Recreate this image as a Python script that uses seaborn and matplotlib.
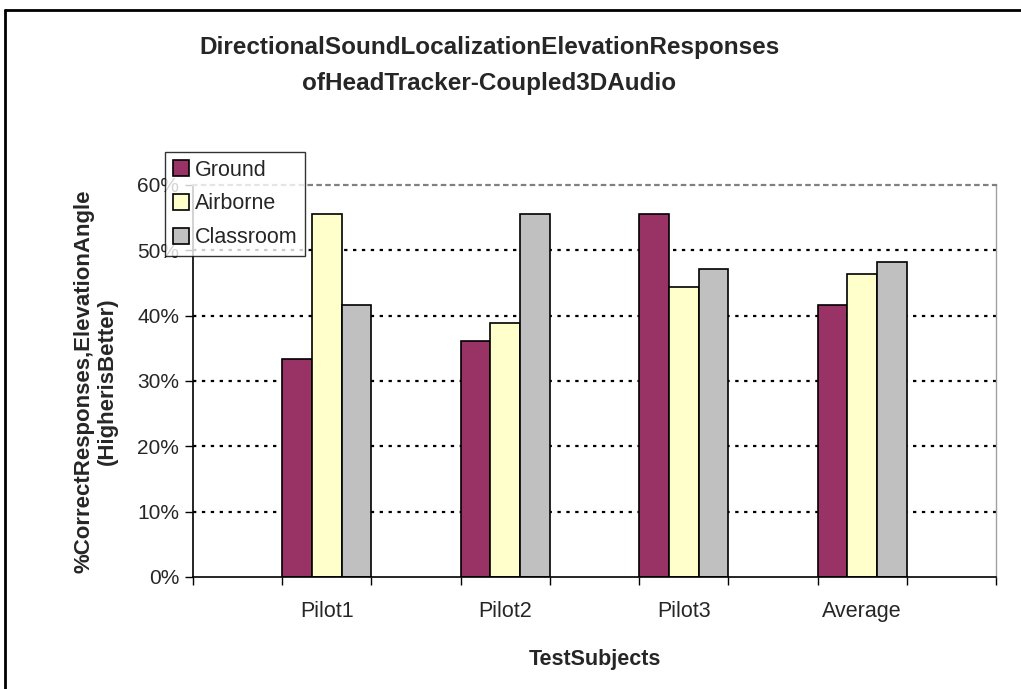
import matplotlib
matplotlib.use("Agg")
import matplotlib.pyplot as plt
import seaborn as sns
import pandas as pd
from matplotlib.ticker import FixedLocator, PercentFormatter
from matplotlib.lines import Line2D

subjects = ["Pilot1", "Pilot2", "Pilot3", "Average"]
ground = [33.3, 36.1, 55.6, 41.7]
airborne = [55.6, 38.9, 44.4, 46.3]
classroom = [41.7, 55.6, 47.2, 48.2]
series_names = ["Ground", "Airborne", "Classroom"]
colors = ["#993366", "#FFFFCC", "#C0C0C0"]

rows = []
for name, vals in zip(series_names, [ground, airborne, classroom]):
    for s, v in zip(subjects, vals):
        rows.append({"Subject": s, "Series": name, "Value": v / 100.0})
df = pd.DataFrame(rows)

sns.set_style("white")
plt.rcParams["font.family"] = ["Liberation Sans", "DejaVu Sans"]

fig = plt.figure(figsize=(10.21, 6.89), dpi=100)
ax = fig.add_axes([0.189, 0.1626, 0.9755 - 0.189, 0.7315 - 0.1626])

sns.barplot(data=df, x="Subject", y="Value", hue="Series", order=subjects,
            hue_order=series_names, palette=colors, width=0.5, gap=0,
            edgecolor="black", linewidth=1.2, saturation=1, errorbar=None, ax=ax)

ax.set_xlim(-0.75, 3.75)
ax.set_ylim(0, 0.6)
ax.yaxis.set_major_locator(FixedLocator([0, 0.1, 0.2, 0.3, 0.4, 0.5, 0.6]))
ax.yaxis.set_major_formatter(PercentFormatter(1.0, decimals=0))
ax.grid(False)
for yv in [0.1, 0.2, 0.3, 0.4, 0.5]:
    ax.axhline(yv, color="black", linestyle=(0, (1.5, 2.5)), linewidth=1.6, zorder=0)

ax.set_xticks(range(len(subjects)))
ax.set_xticklabels(subjects)
ax.xaxis.set_minor_locator(FixedLocator([-0.75 + 0.5 * k for k in range(10)]))
ax.tick_params(axis="x", which="major", length=0, pad=17, labelsize=15.5)
ax.tick_params(axis="x", which="minor", length=6, width=1, color="black", direction="out", bottom=True)
ax.tick_params(axis="y", which="major", length=6, width=1, color="black", direction="out",
               left=True, labelsize=15, pad=4)

for side in ["left", "bottom"]:
    ax.spines[side].set_color("black")
    ax.spines[side].set_linewidth(1.2)
ax.spines["right"].set_color("#A0A0A0")
ax.spines["right"].set_linewidth(1.0)
ax.spines["top"].set_color("#808080")
ax.spines["top"].set_linestyle((0, (1.5, 2.5)))
ax.spines["top"].set_linewidth(1.6)

ax.set_xlabel("TestSubjects", fontsize=15.5, fontweight="bold", labelpad=20)
ax.set_ylabel("%CorrectResponses,ElevationAngle\n(HigherisBetter)", fontsize=16,
              fontweight="bold", labelpad=14, linespacing=1.15)

fig.text(0.479, 0.905, "DirectionalSoundLocalizationElevationResponses\nofHeadTracker-Coupled3DAudio",
         ha="center", va="center", fontsize=17.5, fontweight="bold", linespacing=1.75)

leg = ax.legend(loc="upper left", bbox_to_anchor=(165 / 1021, 1 - 152 / 689),
                bbox_transform=fig.transFigure, fontsize=15.5, frameon=True,
                fancybox=False, shadow=False, handlelength=0.75, handleheight=0.75,
                handletextpad=0.3, borderpad=0.35, labelspacing=0.6, borderaxespad=0)
leg.get_frame().set_edgecolor("black")
leg.get_frame().set_linewidth(1.0)
leg.set_zorder(10)

# chart-area border: only top and left edges visible in the reference
x0 = 5 / 1021
y0 = 1 - 10 / 689
fig.add_artist(Line2D([x0, 1.0], [y0, y0], transform=fig.transFigure, color="black", linewidth=2))
fig.add_artist(Line2D([x0, x0], [0.0, y0], transform=fig.transFigure, color="black", linewidth=2))

fig.savefig("out.png", dpi=100)
